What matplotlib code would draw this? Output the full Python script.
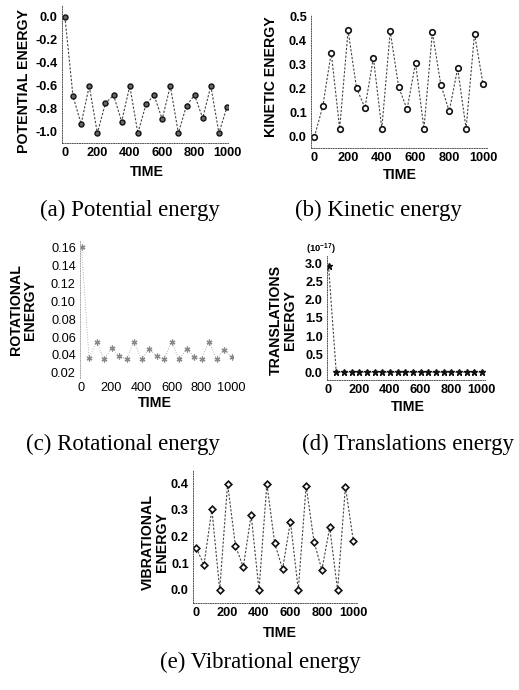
import numpy as np
import matplotlib
matplotlib.use('Agg')
import matplotlib.pyplot as plt

plt.rcParams['axes.unicode_minus'] = False
plt.rcParams['font.family'] = ['Liberation Sans', 'DejaVu Sans']

W, H = 519, 690

time = [0, 50, 100, 150, 200, 250, 300, 350, 400, 450, 500,
        550, 600, 650, 700, 750, 800, 850, 900, 950, 1000]

potential = [0.0, -0.69, -0.93, -0.60, -1.01, -0.75, -0.68, -0.91, -0.60, -1.01, -0.76,
             -0.68, -0.89, -0.60, -1.01, -0.77, -0.68, -0.88, -0.60, -1.01, -0.78]
kinetic = [0.0, 0.128, 0.351, 0.035, 0.444, 0.204, 0.121, 0.330, 0.035, 0.440, 0.208,
           0.115, 0.308, 0.035, 0.436, 0.218, 0.107, 0.286, 0.035, 0.430, 0.222]
rotational = [0.160, 0.037, 0.055, 0.035, 0.048, 0.039, 0.0355, 0.055, 0.035, 0.047, 0.039,
              0.035, 0.055, 0.035, 0.047, 0.038, 0.0355, 0.055, 0.035, 0.046, 0.038]
translations = [2.95, 0.0, 0.0, 0.0, 0.0, 0.0, 0.0, 0.0, 0.0, 0.0, 0.0,
                0.0, 0.0, 0.0, 0.0, 0.0, 0.0, 0.0, 0.0, 0.0, 0.0]
vibrational = [0.158, 0.094, 0.302, 0.0, 0.397, 0.166, 0.085, 0.281, 0.0, 0.397, 0.175,
               0.078, 0.256, 0.0, 0.390, 0.181, 0.075, 0.234, 0.0, 0.387, 0.185]

captions = ['(a) Potential energy', '(b) Kinetic energy', '(c) Rotational energy',
            '(d) Translations energy', '(e) Vibrational energy']


def box(l, t, r, b):
    return [l / W, 1 - b / H, (r - l) / W, (b - t) / H]


def px(x, y):
    return x / W, 1 - y / H


def style(ax, bold=True, size=9.2):
    for s in ['top', 'right']:
        ax.spines[s].set_visible(False)
    for s in ['left', 'bottom']:
        ax.spines[s].set_linestyle((0, (1, 1.5)))
        ax.spines[s].set_linewidth(0.7)
        ax.spines[s].set_color('#555555')
    ax.tick_params(length=0, pad=3, labelsize=size)
    for lab in ax.get_xticklabels() + ax.get_yticklabels():
        lab.set_fontweight('bold' if bold else 'normal')


line_kw = dict(color='#444444', linewidth=0.8, linestyle=(0, (2, 1.5)))
lab_kw = dict(fontsize=10.2, fontweight='bold')

fig = plt.figure(figsize=(W / 100, H / 100), dpi=100)

# (a)
ax = fig.add_axes(box(62, 5, 228, 143))
ax.plot(time, potential, marker='o', markersize=3.6, markerfacecolor='#666666',
        markeredgecolor='#111111', markeredgewidth=1.0, **line_kw)
ax.set_xlim(-18, 1006)
ax.set_ylim(-1.096, 0.104)
ax.set_xticks(range(0, 1001, 200))
ax.set_yticks([0.0, -0.2, -0.4, -0.6, -0.8, -1.0])
ax.set_yticklabels(['0.0', '-0.2', '-0.4', '-0.6', '-0.8', '-1.0'])
style(ax)
fig.text(*px(24, 81), 'POTENTIAL ENERGY', rotation=90, ha='center', va='center', **lab_kw)
fig.text(*px(147, 172), 'TIME', ha='center', va='center', **lab_kw)

# (b)
ax = fig.add_axes(box(311, 15, 488, 148))
ax.plot(time, kinetic, marker='o', markersize=4.0, markerfacecolor='white',
        markeredgecolor='#111111', markeredgewidth=1.2, **line_kw)
ax.set_xlim(-20, 1030)
ax.set_ylim(-0.046, 0.508)
ax.set_xticks(range(0, 1001, 200))
ax.set_yticks([0.0, 0.1, 0.2, 0.3, 0.4, 0.5])
ax.set_yticklabels(['0.0', '0.1', '0.2', '0.3', '0.4', '0.5'])
style(ax)
fig.text(*px(271, 77), 'KINETIC ENERGY', rotation=90, ha='center', va='center', **lab_kw)
fig.text(*px(400, 175), 'TIME', ha='center', va='center', **lab_kw)

# (c)
ax = fig.add_axes(box(80, 240, 233, 378))
ax.plot(time, rotational, marker=(6, 2, 0), markersize=4.2, markeredgecolor='#888888',
        markeredgewidth=0.9, color='#999999', linewidth=0.6, linestyle=(0, (1, 2)))
ax.set_xlim(-10, 1010)
ax.set_ylim(0.0144, 0.168)
ax.set_xticks(range(0, 1001, 200))
ax.set_yticks([0.02, 0.04, 0.06, 0.08, 0.10, 0.12, 0.14, 0.16])
ax.set_yticklabels(['0.02', '0.04', '0.06', '0.08', '0.10', '0.12', '0.14', '0.16'])
style(ax, bold=False, size=9.2)
ax.spines['left'].set_color('#aaaaaa')
ax.spines['bottom'].set_visible(False)
fig.text(*px(23, 310), 'ROTATIONAL\nENERGY', rotation=90, ha='center', va='center',
         linespacing=1.0, **lab_kw)
fig.text(*px(155, 403), 'TIME', ha='center', va='center', **lab_kw)

# (d)
ax = fig.add_axes(box(327, 256, 485, 380))
ax.plot(time, translations, marker='*', markersize=4.8, markerfacecolor='#111111',
        markeredgecolor='#111111', **line_kw)
ax.set_xlim(-10, 1020)
ax.set_ylim(-0.22, 3.22)
ax.set_xticks(range(0, 1001, 200))
ax.set_yticks([0.0, 0.5, 1.0, 1.5, 2.0, 2.5, 3.0])
ax.set_yticklabels(['0.0', '0.5', '1.0', '1.5', '2.0', '2.5', '3.0'])
style(ax)
fig.text(*px(321, 249), r'(10$^{\mathregular{-17}}$)', ha='center', va='center',
         fontsize=6.8, fontweight='bold')
fig.text(*px(283, 320), 'TRANSLATIONS\nENERGY', rotation=90, ha='center', va='center',
         linespacing=1.0, **lab_kw)
fig.text(*px(408, 407), 'TIME', ha='center', va='center', **lab_kw)

# (e)
ax = fig.add_axes(box(193, 470, 358, 603))
ax.plot(time, vibrational, marker='D', markersize=3.4, markerfacecolor='white',
        markeredgecolor='#111111', markeredgewidth=1.2, **line_kw)
ax.set_xlim(-20, 1030)
ax.set_ylim(-0.049, 0.449)
ax.set_xticks(range(0, 1001, 200))
ax.set_yticks([0.0, 0.1, 0.2, 0.3, 0.4])
ax.set_yticklabels(['0.0', '0.1', '0.2', '0.3', '0.4'])
style(ax)
fig.text(*px(155, 542), 'VIBRATIONAL\nENERGY', rotation=90, ha='center', va='center',
         linespacing=1.0, **lab_kw)
fig.text(*px(280, 633), 'TIME', ha='center', va='center', **lab_kw)

# captions
cap_pos = [(130, 210), (378, 210), (123, 444), (408, 444), (260, 662)]
for (cx, cy), cap in zip(cap_pos, captions):
    fig.text(*px(cx, cy), cap, ha='center', va='center', fontsize=16.5,
             family=['Liberation Serif', 'DejaVu Serif'])

fig.savefig('out.png', dpi=100)
